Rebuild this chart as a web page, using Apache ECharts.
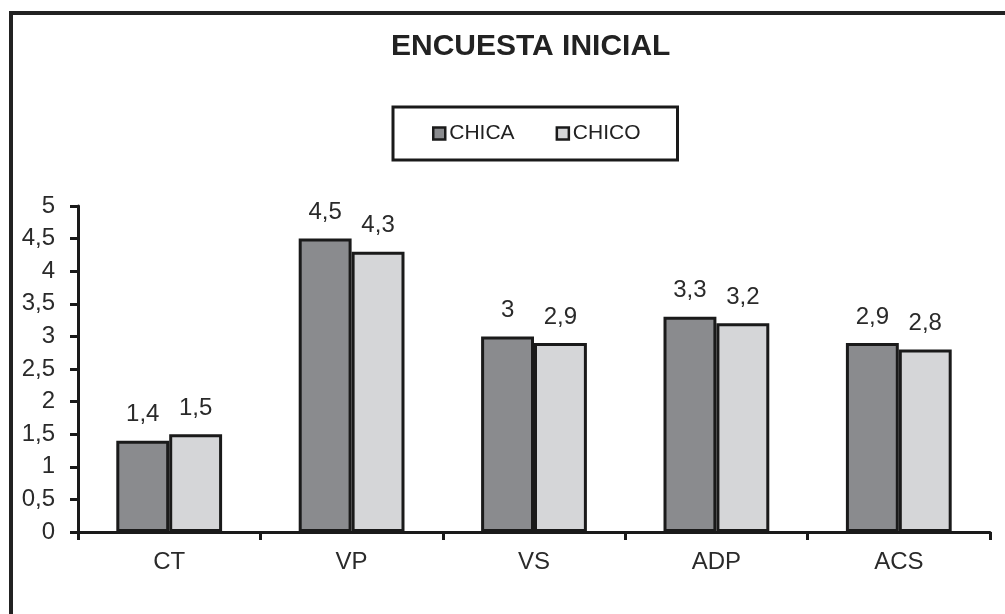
<!DOCTYPE html>
<html><head><meta charset="utf-8">
<script src="https://cdn.jsdelivr.net/npm/echarts@6/dist/echarts.min.js"></script>
<style>html,body{margin:0;padding:0;background:#fff}#c{width:1005px;height:614px}</style>
</head><body><div id="c"></div>
<script>
const categories = ['CT', 'VP', 'VS', 'ADP', 'ACS'];
const chica = [1.4, 4.5, 3.0, 3.3, 2.9];
const chico = [1.5, 4.3, 2.9, 3.2, 2.8];
const seriesNames = ['CHICA', 'CHICO'];
const titleText = 'ENCUESTA INICIAL';

const chart = echarts.init(document.getElementById('c'));
const FONT = 'Liberation Sans, Arial, sans-serif';
const fmt = p => String(p.value).replace('.', ',');
const labelCfg = {show: true, position: 'top', distance: 14, formatter: fmt,
  fontFamily: FONT, fontSize: 24, color: '#2a2a2a'};
chart.setOption({
  animation: false,
  backgroundColor: '#fff',
  title: {text: titleText, left: 386, top: 27,
    textStyle: {fontFamily: FONT, fontWeight: 'bold', fontSize: 30, color: '#222'}},
  legend: {data: seriesNames, left: 393, top: 107,
    padding: [16, 37, 16, 39], itemGap: 41, itemWidth: 12, itemHeight: 12,
    borderColor: '#1a1a1a', borderWidth: 3,
    icon: 'rect',
    itemStyle: {borderColor: '#1a1a1a', borderWidth: 2.5},
    textStyle: {fontFamily: FONT, fontSize: 21, color: '#222', padding: [0,0,0,-1]}},
  graphic: [{type: 'rect', shape: {x: 11, y: 13, width: 1100, height: 700},
    style: {fill: 'none', stroke: '#222', lineWidth: 4}, silent: true, z: -1}],
  grid: {left: 78, right: 15, top: 206, bottom: 82},
  xAxis: {type: 'category', data: categories,
    axisLine: {lineStyle: {color: '#1a1a1a', width: 3}},
    axisTick: {show: true, length: 8, lineStyle: {color: '#1a1a1a', width: 3}},
    axisLabel: {margin: 18, fontFamily: FONT, fontSize: 24, color: '#2a2a2a'}},
  yAxis: {type: 'value', min: 0, max: 5, interval: 0.5,
    axisLine: {show: true, lineStyle: {color: '#1a1a1a', width: 3}},
    axisTick: {show: true, length: 8, lineStyle: {color: '#1a1a1a', width: 3}},
    splitLine: {show: false},
    axisLabel: {margin: 23, formatter: v => String(v).replace('.', ','),
      fontFamily: FONT, fontSize: 24, color: '#2a2a2a'}},
  series: [
    {name: seriesNames[0], type: 'bar', data: chica, barGap: '0%', barCategoryGap: '42%',
      itemStyle: {color: '#8a8b8e', borderColor: '#1a1a1a', borderWidth: 3}, label: labelCfg},
    {name: seriesNames[1], type: 'bar', data: chico,
      itemStyle: {color: '#d5d6d8', borderColor: '#1a1a1a', borderWidth: 3}, label: labelCfg}
  ]
});
</script></body></html>
